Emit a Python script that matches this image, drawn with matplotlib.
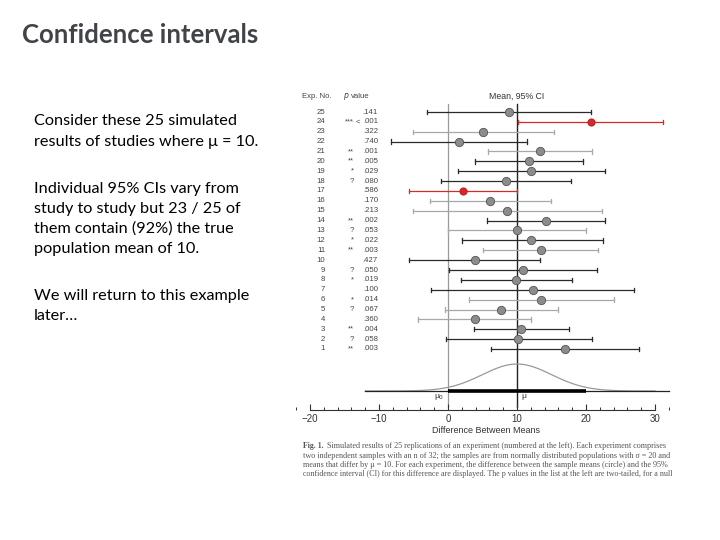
import numpy as np
import matplotlib
matplotlib.use("Agg")
import matplotlib.pyplot as plt
from matplotlib.ticker import MultipleLocator

# ---------------- data ----------------
exp_no = list(range(25, 0, -1))
stars = ["", "***", "", "", "**", "**", "*", "?", "", "", "", "**",
         "?", "*", "**", "", "?", "*", "", "*", "?", "", "**", "?", "**"]
p_values = [".141", ".001", ".322", ".740", ".001", ".005", ".029", ".080", ".586",
            ".170", ".213", ".002", ".053", ".022", ".003", ".427", ".050", ".019",
            ".100", ".014", ".067", ".360", ".004", ".058", ".003"]
means = [8.8, 20.7, 5.1, 1.6, 13.3, 11.8, 12.1, 8.4, 2.2, 6.1, 8.6, 14.2,
         10.0, 12.1, 13.5, 3.9, 10.9, 9.9, 12.3, 13.5, 7.7, 3.9, 10.6, 10.2, 17.0]
ci_low = [-3.0, 10.2, -5.1, -8.3, 5.8, 3.9, 1.5, -1.0, -5.6, -2.6, -5.1, 5.7,
          0.0, 2.0, 5.1, -5.7, 0.1, 1.9, -2.4, 3.0, -0.5, -4.4, 3.7, -0.3, 6.3]
ci_high = [20.7, 31.1, 15.4, 11.5, 20.9, 19.6, 22.8, 17.8, 10.0, 14.9, 22.3, 22.8,
           20.0, 22.5, 21.8, 13.4, 21.6, 18.0, 27.0, 24.0, 15.9, 12.1, 17.5, 20.9, 27.7]
line_kind = ["k", "r", "g", "k", "g", "k", "k", "k", "r", "g", "g", "k",
             "g", "k", "g", "k", "k", "k", "k", "g", "g", "g", "k", "k", "k"]
mu0, mu = 0, 10
sigma_curve = 5.0
x_ticks = [-20, -10, 0, 10, 20, 30]
x_tick_labels = ["\u221220", "\u221210", "0", "10", "20", "30"]

caption_lines = [
    "Simulated results of 25 replications of an experiment (numbered at the left). Each experiment comprises",
    "two independent samples with an n of 32; the samples are from normally distributed populations with \u03c3 = 20 and",
    "means that differ by \u03bc = 10. For each experiment, the difference between the sample means (circle) and the 95%",
    "confidence interval (CI) for this difference are displayed. The p values in the list at the left are two-tailed, for a null",
]

W, H = 720, 540
fig = plt.figure(figsize=(7.2, 5.4), dpi=100)
fig.patch.set_facecolor("white")

def fy(py):
    return 1 - py / H

def fx(px):
    return px / W

# ---------------- left slide text ----------------
fig.text(fx(22), fy(43), "Confidence intervals", family=["Lato", "DejaVu Sans"],
         fontweight="bold", fontsize=18.5, color="#404348", va="baseline", ha="left")

body = [
    (125, "Consider these 25 simulated"),
    (146, "results of studies where \u03bc = 10."),
    (193, "Individual 95% CIs vary from"),
    (213, "study to study but 23 / 25 of"),
    (233, "them contain (92%) the true"),
    (253, "population mean of 10."),
    (300, "We will return to this example"),
    (320, "later\u2026"),
]
for py, s in body:
    fig.text(fx(34), fy(py), s, family=["Lato", "DejaVu Sans"], fontsize=11.7,
             color="black", va="baseline", ha="left")

# ---------------- forest plot axes ----------------
scale = 6.9          # px per unit
x0px = 448           # px of value 0
row1_px, row_step = 349, 9.875
xmin, xmax = -22, 33
left_px = x0px + xmin * scale
right_px = x0px + xmax * scale
top_px, bot_px = 85, 410

def ydata(py):
    return 1 - (py - row1_px) / row_step

ax = fig.add_axes([fx(left_px), fy(bot_px), (right_px - left_px) / W, (bot_px - top_px) / H])
ax.set_xlim(xmin, xmax)
ax.set_ylim(ydata(bot_px), ydata(top_px))
ax.set_facecolor("none")
for s in ["top", "right", "left"]:
    ax.spines[s].set_visible(False)
ax.spines["bottom"].set_bounds(-20, 30)
ax.spines["bottom"].set_color("#333333")
ax.spines["bottom"].set_linewidth(0.8)
ax.set_yticks([])
ax.set_xticks(x_ticks)
ax.set_xticklabels(x_tick_labels)
ax.xaxis.set_minor_locator(MultipleLocator(2))
ax.tick_params(axis="x", which="major", direction="in", length=4, width=0.8,
               color="#333333", labelsize=7, labelcolor="#333333", pad=3)
ax.tick_params(axis="x", which="minor", direction="in", length=2.5, width=0.7, color="#333333")
font_fig = ["Liberation Sans Narrow", "Liberation Sans", "DejaVu Sans"]
for lab in ax.get_xticklabels():
    lab.set_family(font_fig)
ax.set_xlabel("Difference Between Means", fontsize=6.5, color="#333333",
              family=font_fig, labelpad=1)

# reference lines
ytop_lines = 25.8
ybot_lines = ydata(407)
ax.plot([mu0, mu0], [ybot_lines, ytop_lines], color="#999999", lw=0.9, zorder=1)
ax.plot([mu, mu], [ybot_lines, ytop_lines], color="#222222", lw=1.0, zorder=1)

colors = {"k": "#2a2a2a", "g": "#a8a8a8", "r": "#d42a2a"}
for i, n in enumerate(exp_no):
    c = colors[line_kind[i]]
    y = n
    ax.plot([ci_low[i], ci_high[i]], [y, y], color=c, lw=0.9, zorder=2, clip_on=False)
    ax.plot([ci_low[i], ci_low[i]], [y - 0.22, y + 0.22], color=c, lw=0.9, zorder=2, clip_on=False)
    ax.plot([ci_high[i], ci_high[i]], [y - 0.22, y + 0.22], color=c, lw=0.9, zorder=2, clip_on=False)
    if line_kind[i] == "r":
        ax.plot(means[i], y, "o", ms=5.2, mfc="#d42a2a", mec="#b01818", mew=0.6, zorder=3, clip_on=False)
    else:
        ax.plot(means[i], y, "o", ms=6, mfc="#8c8c8c", mec="#555555", mew=0.6, zorder=3, clip_on=False)

# left columns
def xdata(px):
    return (px - x0px) / scale

for i, n in enumerate(exp_no):
    y = n
    ax.text(xdata(325), y, str(n), ha="right", va="center", fontsize=5.6,
            color="#444444", family=font_fig, clip_on=False)
    ax.text(xdata(378), y, p_values[i], ha="right", va="center", fontsize=5.6,
            color="#444444", family=font_fig, clip_on=False)
    st = stars[i]
    if n == 24:
        ax.text(xdata(360.5), y, "<", ha="right", va="center", fontsize=5.6,
                color="#444444", family=font_fig, clip_on=False)
        ax.text(xdata(354), y, st, ha="right", va="center", fontsize=5.6,
                color="#444444", family=font_fig, clip_on=False)
    elif st:
        ax.text(xdata(354), y, st, ha="right", va="center", fontsize=5.6,
                color="#444444", family=font_fig, clip_on=False)

yh = ydata(96)
ax.text(xdata(302), yh, "Exp. No.", ha="left", va="center", fontsize=5.6,
        color="#444444", family=font_fig, clip_on=False)
ax.text(xdata(343), yh, "$p$", ha="left", va="center", fontsize=5.6,
        color="#444444", clip_on=False)
ax.text(xdata(350.5), yh, "value", ha="left", va="center", fontsize=5.6,
        color="#444444", family=font_fig, clip_on=False)
ax.text(mu, yh, "Mean, 95% CI", ha="center", va="center", fontsize=6.3,
        color="#333333", family=font_fig, clip_on=False)

# normal curve
base_y = ydata(391)
peak_y = ydata(364)
xc = np.linspace(-12, 30, 400)
yc = base_y + (peak_y - base_y) * np.exp(-0.5 * ((xc - mu) / sigma_curve) ** 2)
ax.plot(xc, yc, color="#999999", lw=0.9, zorder=1)
ax.plot([-12, 32], [base_y, base_y], color="#222222", lw=0.9, zorder=2, clip_on=False)
ax.plot([mu - 2 * sigma_curve, mu + 2 * sigma_curve], [base_y, base_y], color="black",
        lw=2.6, zorder=3, solid_capstyle="butt")
ax.text(-0.6, ydata(397), "\u03bc$_0$", ha="right", va="center", fontsize=6,
        color="#333333", family=font_fig)
ax.text(10.6, ydata(397), "\u03bc", ha="left", va="center", fontsize=6,
        color="#333333", family=font_fig)

# caption: each line fitted to the column width
cap_font = ["Liberation Serif", "DejaVu Serif"]
cap_y = [448, 457.5, 467, 476.5]
cap_x0, cap_x1 = 303, 672
base_fs = 5.6
fig.canvas.draw()
renderer = fig.canvas.get_renderer()
for k, (line, py) in enumerate(zip(caption_lines, cap_y)):
    x_start = cap_x0
    if k == 0:
        tb = fig.text(fx(cap_x0), fy(py), "Fig. 1.", family=cap_font, fontsize=base_fs,
                      fontweight="bold", color="#555555", va="baseline", ha="left")
        x_start = cap_x0 + tb.get_window_extent(renderer).width + 3
    t = fig.text(fx(x_start), fy(py), line, family=cap_font, fontsize=base_fs,
                 color="#555555", va="baseline", ha="left")
    fs = base_fs
    for _ in range(4):
        w = t.get_window_extent(renderer).width
        fs = fs * (cap_x1 - x_start) / w
        t.set_fontsize(fs)
    # safety: shrink until it fits
    for _ in range(20):
        if t.get_window_extent(renderer).width <= cap_x1 - x_start + 0.5:
            break
        fs *= 0.99
        t.set_fontsize(fs)

fig.savefig("out.png", dpi=100, facecolor="white")
